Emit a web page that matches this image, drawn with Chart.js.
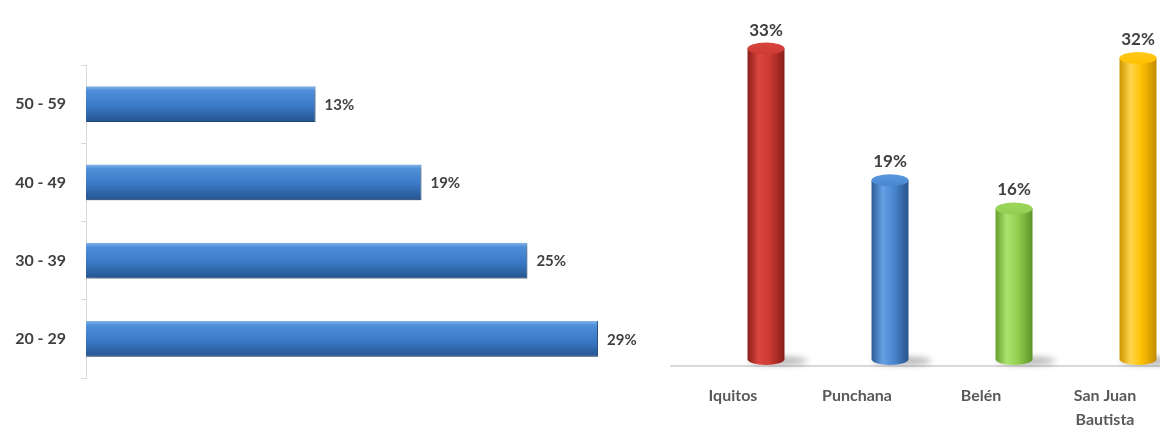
<!DOCTYPE html>
<html>
<head>
<meta charset="utf-8">
<script src="https://cdn.jsdelivr.net/npm/chart.js@4/dist/chart.umd.min.js"></script>
<style>
  html, body { margin: 0; padding: 0; background: #fff; overflow: hidden; }
  #left  { position: absolute; left: 0;   top: 0; width: 660px; height: 427px; }
  #right { position: absolute; left: 650px; top: 0; width: 520px; height: 427px; }
</style>
</head>
<body>
<div id="left"><canvas id="chartEdad"></canvas></div>
<div id="right"><canvas id="chartDistrito"></canvas></div>
<script>
const EDAD_LABELS   = ['50 - 59', '40 - 49', '30 - 39', '20 - 29'];
const EDAD_VALUES   = [13, 19, 25, 29];

const DIST_LABELS   = ['Iquitos', 'Punchana', 'Belén', ['San Juan', 'Bautista']];
const DIST_VALUES   = [33, 19, 16, 32];

// edge, highlight, mid, edge - for the cylinder look
const DIST_COLORS = [
  ['#8a1e1b', '#dc453e', '#cc3a34', '#861c19'],
  ['#2a5a94', '#64a0e4', '#4a86d0', '#28548a'],
  ['#65a02c', '#aae36e', '#92cf50', '#5c9428'],
  ['#cf9400', '#ffd64d', '#ffc000', '#c48a00'],
];
const DIST_TOPS = ['#d8443d', '#5b98de', '#9cd75c', '#ffc81a'];

const FONT = 'Lato, "Open Sans", sans-serif';
const TEXT = '#404040';

// ---------- left: age groups ----------
const barShade = {
  id: 'barShade',
  beforeDatasetsDraw(chart) {
    const ctx = chart.ctx;
    chart.getDatasetMeta(0).data.forEach(bar => {
      const { y, height } = bar.getProps(['y', 'height'], true);
      const g = ctx.createLinearGradient(0, y - height / 2, 0, y + height / 2);
      g.addColorStop(0, '#86b6ea');
      g.addColorStop(0.12, '#4f8fd9');
      g.addColorStop(0.55, '#3b79c6');
      g.addColorStop(1, '#24548d');
      bar.options.backgroundColor = g;
    });
    ctx.save();
    ctx.shadowColor = 'rgba(0,0,0,0.28)';
    ctx.shadowBlur = 4;
    ctx.shadowOffsetY = 3;
    ctx.shadowOffsetX = 1;
  },
  afterDatasetsDraw(chart) {
    const ctx = chart.ctx;
    ctx.restore();
    ctx.save();
    ctx.font = 'bold 15px ' + FONT;
    ctx.fillStyle = TEXT;
    ctx.textAlign = 'left';
    ctx.textBaseline = 'middle';
    chart.getDatasetMeta(0).data.forEach((bar, i) => {
      ctx.fillText(EDAD_VALUES[i] + '%', bar.x + 9, bar.y + 1);
    });
    ctx.restore();
  }
};

new Chart(document.getElementById('chartEdad'), {
  type: 'bar',
  data: {
    labels: EDAD_LABELS,
    datasets: [{
      data: EDAD_VALUES,
      backgroundColor: () => '#3b79c6',   // scriptable so every bar keeps its own options
      borderColor: '#2a5a93',
      borderWidth: { right: 1, bottom: 1 },
      borderSkipped: 'left',
      barPercentage: 0.46,
      categoryPercentage: 1,
    }]
  },
  options: {
    indexAxis: 'y',
    responsive: true,
    maintainAspectRatio: false,
    animation: false,
    layout: { padding: { top: 65, bottom: 49, right: 9, left: 0 } },
    plugins: { legend: { display: false }, tooltip: { enabled: false } },
    scales: {
      x: { display: false, min: 0, max: 32 },
      y: {
        afterFit: s => { s.width = 86; },
        grid: { drawOnChartArea: false, color: '#d9d9d9', tickLength: 5, offset: true },
        border: { color: '#d9d9d9', width: 1 },
        ticks: { color: TEXT, padding: 15, font: { family: FONT, size: 16, weight: 'bold' } }
      }
    }
  },
  plugins: [barShade]
});

// ---------- right: districts ----------
// dataset 0 is an empty spacer so the cylinders sit right of the labels (3D perspective look)
const cylinder = {
  id: 'cylinder',
  beforeDatasetsDraw(chart) {
    const ctx = chart.ctx;
    chart.getDatasetMeta(1).data.forEach((bar, i) => {
      const { x, width, base } = bar.getProps(['x', 'width', 'base'], true);
      const c = DIST_COLORS[i];
      const g = ctx.createLinearGradient(x - width / 2, 0, x + width / 2, 0);
      g.addColorStop(0, c[0]);
      g.addColorStop(0.3, c[1]);
      g.addColorStop(0.6, c[2]);
      g.addColorStop(1, c[3]);
      bar.options.backgroundColor = g;
      // floor shadow
      ctx.save();
      ctx.filter = 'blur(3px)';
      ctx.fillStyle = 'rgba(0,0,0,0.3)';
      ctx.beginPath();
      ctx.ellipse(x + 12, base + 2, width * 0.8, 4, 0, 0, Math.PI * 2);
      ctx.fill();
      ctx.restore();
    });
  },
  afterDatasetsDraw(chart) {
    const ctx = chart.ctx;
    const ry = 6;
    chart.getDatasetMeta(1).data.forEach((bar, i) => {
      const { x, y, width, base } = bar.getProps(['x', 'y', 'width', 'base'], true);
      const rx = width / 2;
      ctx.save();
      ctx.fillStyle = bar.options.backgroundColor;
      ctx.beginPath();
      ctx.ellipse(x, base, rx, ry, 0, 0, Math.PI);
      ctx.fill();
      const t = ctx.createLinearGradient(0, y - ry, 0, y + ry);
      t.addColorStop(0, DIST_TOPS[i]);
      t.addColorStop(1, DIST_COLORS[i][2]);
      ctx.fillStyle = t;
      ctx.beginPath();
      ctx.ellipse(x, y, rx, ry, 0, 0, Math.PI * 2);
      ctx.fill();
      ctx.font = 'bold 17px ' + FONT;
      ctx.fillStyle = TEXT;
      ctx.textAlign = 'center';
      ctx.textBaseline = 'alphabetic';
      ctx.fillText(DIST_VALUES[i] + '%', x, y - ry - 7);
      ctx.restore();
    });
  }
};

new Chart(document.getElementById('chartDistrito'), {
  type: 'bar',
  data: {
    labels: DIST_LABELS,
    datasets: [
      { data: [null, null, null, null] },
      {
        data: DIST_VALUES,
        backgroundColor: () => '#cccccc',
        borderWidth: 0,
      }
    ]
  },
  options: {
    responsive: true,
    maintainAspectRatio: false,
    animation: false,
    categoryPercentage: 1.065,
    barPercentage: 0.56,
    layout: { padding: { top: 11, bottom: 0, left: 21, right: 3 } },
    plugins: { legend: { display: false }, tooltip: { enabled: false } },
    scales: {
      x: {
        afterFit: s => { s.height = 61; },
        grid: { display: false },
        border: { color: '#d9d9d9', width: 2 },
        ticks: {
          color: '#595959', padding: 10, maxRotation: 0,
          font: { family: FONT, size: 16, weight: 'bold', lineHeight: 1.5 }
        }
      },
      y: { display: false, min: -0.75, max: 37 }
    }
  },
  plugins: [cylinder]
});
</script>
</body>
</html>
